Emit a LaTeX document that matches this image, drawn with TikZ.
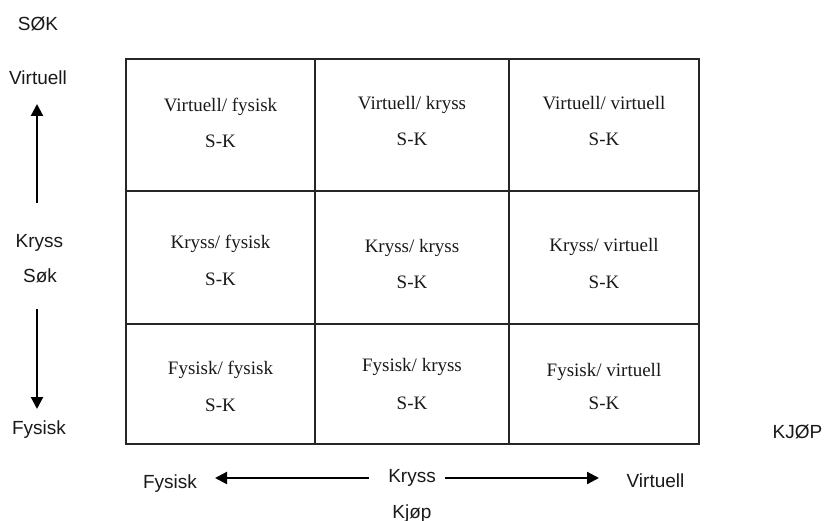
\documentclass[tikz,border=0pt]{standalone}
\usepackage{fontspec}
\setmainfont{Liberation Serif}
\newfontfamily\labelfont{Liberation Sans}
\usetikzlibrary{arrows.meta}
\begin{document}
\begin{tikzpicture}[x=1pt,y=-1pt,
  cellbox/.style={draw=black!85, line width=1.4pt, inner sep=0pt, outer sep=0pt,
    minimum height=#1},
  wA/.style={minimum width=189pt},
  wB/.style={minimum width=194pt},
  wC/.style={minimum width=190pt},
  celltext/.style={anchor=base, inner sep=0pt, text=black!90,
    font=\fontsize{19}{19}\selectfont},
  axislabel/.style={anchor=base, inner sep=0pt, text=black!90,
    font=\labelfont\fontsize{19}{19}\selectfont},
  axisarrow/.style={line width=2.2pt, -{Triangle[length=12pt,width=12pt]}}]
\useasboundingbox[fill=white] (0,0) rectangle (824,521);

% the 3 x 3 grid
\node[cellbox=132pt, wA] (c11) at (220.5,125) {};
\node[cellbox=132pt, wB] (c12) at (412,125) {};
\node[cellbox=132pt, wC] (c13) at (604,125) {};
\node[cellbox=133pt, wA] (c21) at (220.5,257.5) {};
\node[cellbox=133pt, wB] (c22) at (412,257.5) {};
\node[cellbox=133pt, wC] (c23) at (604,257.5) {};
\node[cellbox=120pt, wA] (c31) at (220.5,384) {};
\node[cellbox=120pt, wB] (c32) at (412,384) {};
\node[cellbox=120pt, wC] (c33) at (604,384) {};

% cell texts
\node[celltext] (t11a) at (220.5,112) {Virtuell/ fysisk};
\node[celltext] (t11b) at (220.5,148) {S-K};
\node[celltext] (t12a) at (412,110) {Virtuell/ kryss};
\node[celltext] (t12b) at (412,146) {S-K};
\node[celltext] (t13a) at (604,110) {Virtuell/ virtuell};
\node[celltext] (t13b) at (604,146) {S-K};

\node[celltext] (t21a) at (220.5,249) {Kryss/ fysisk};
\node[celltext] (t21b) at (220.5,285) {S-K};
\node[celltext] (t22a) at (412,253) {Kryss/ kryss};
\node[celltext] (t22b) at (412,288) {S-K};
\node[celltext] (t23a) at (604,252) {Kryss/ virtuell};
\node[celltext] (t23b) at (604,288) {S-K};

\node[celltext] (t31a) at (220.5,374) {Fysisk/ fysisk};
\node[celltext] (t31b) at (220.5,411) {S-K};
\node[celltext] (t32a) at (412,371) {Fysisk/ kryss};
\node[celltext] (t32b) at (412,409) {S-K};
\node[celltext] (t33a) at (604,376) {Fysisk/ virtuell};
\node[celltext] (t33b) at (604,409) {S-K};

% vertical axis (search)
\node[axislabel] (sok) at (38,31) {SØK};
\node[axislabel] (vTop) at (38,85) {Virtuell};
\node[axislabel] (vMid) at (39.5,248) {Kryss};
\node[axislabel] (vSok) at (40,282) {Søk};
\node[axislabel] (vBot) at (39,434) {Fysisk};
\coordinate (upTail) at (37,203);
\coordinate (upTip) at (37,104);
\coordinate (downTail) at (37,309);
\coordinate (downTip) at (37,409);
\draw[axisarrow] (upTail) -- (upTip);
\draw[axisarrow] (downTail) -- (downTip);

% horizontal axis (purchase)
\node[axislabel] (kjopCap) at (797.5,438) {KJØP};
\node[axislabel] (hLeft) at (170,488) {Fysisk};
\node[axislabel] (hMid) at (412,482) {Kryss};
\node[axislabel] (hRight) at (655.5,487) {Virtuell};
\node[axislabel] (hKjop) at (412,518) {Kjøp};
\coordinate (leftTail) at (369,478);
\coordinate (leftTip) at (215,478);
\coordinate (rightTail) at (445,478);
\coordinate (rightTip) at (599,478);
\draw[axisarrow] (leftTail) -- (leftTip);
\draw[axisarrow] (rightTail) -- (rightTip);
\end{tikzpicture}
\end{document}
